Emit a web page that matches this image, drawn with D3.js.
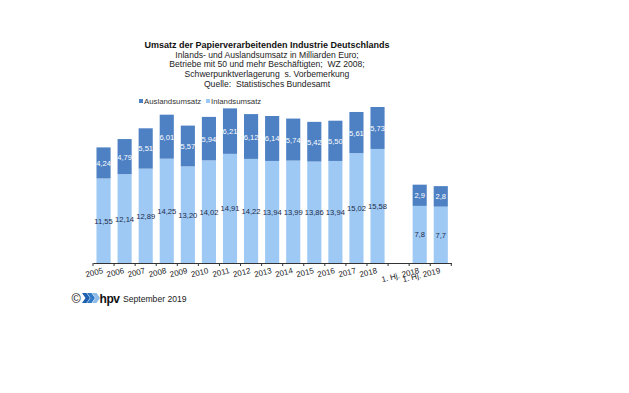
<!DOCTYPE html>
<html><head><meta charset="utf-8">
<script src="https://cdn.jsdelivr.net/npm/d3@7/dist/d3.min.js"></script>
<style>
body{margin:0;background:#fff;}
text{font-family:"Liberation Sans",Arial,sans-serif;white-space:pre;}
</style></head>
<body>
<svg id="c" width="629" height="393"></svg>
<script>
const categories = ["2005","2006","2007","2008","2009","2010","2011","2012","2013","2014","2015","2016","2017","2018"," ","1. Hj. 2018","1. Hj. 2019"];
const inland  = [11.55,12.14,12.89,14.25,13.20,14.02,14.91,14.22,13.94,13.99,13.86,13.94,15.02,15.58,null,7.8,7.7];
const ausland = [4.24,4.79,5.51,6.01,5.57,5.94,6.21,6.12,6.14,5.74,5.42,5.50,5.61,5.73,null,2.9,2.8];
const decimals = [2,2,2,2,2,2,2,2,2,2,2,2,2,2,0,1,1];
const titleLines = ["Inlands- und Auslandsumsatz in Milliarden Euro;","Betriebe mit 50 und mehr Beschäftigten;  WZ 2008;","Schwerpunktverlagerung  s. Vorbemerkung","Quelle:  Statistisches Bundesamt"];
const seriesNames = ["Auslandsumsatz","Inlandsumsatz"];

const darkBlue = "#4d81c4", lightBlue = "#9ec9f4";
const svg = d3.select("#c");
const de = d3.formatLocale({decimal:",",thousands:".",grouping:[3],currency:["","€"]});

const x = d3.scaleBand().domain(categories).range([93,451.3]).paddingInner(0.33).paddingOuter(0.165);
const y = d3.scaleLinear().domain([0,21.31]).range([263,107]);

// title
svg.append("text").attr("x",267).attr("y",48).attr("text-anchor","middle")
  .attr("font-size",9).attr("font-weight","bold").attr("fill","#111")
  .text("Umsatz der Papierverarbeitenden Industrie Deutschlands");
titleLines.forEach((t,i)=>{
  svg.append("text").attr("x",267).attr("y",57.5+i*9.7).attr("text-anchor","middle")
    .attr("font-size",8.6).attr("fill","#222").text(t);
});

// legend
const leg = [{n:seriesNames[0],c:darkBlue,x:139},{n:seriesNames[1],c:lightBlue,x:206}];
leg.forEach(l=>{
  svg.append("rect").attr("x",l.x).attr("y",99).attr("width",4).attr("height",4).attr("fill",l.c);
  svg.append("text").attr("x",l.x+5).attr("y",104).attr("font-size",7.8).attr("fill","#333").text(l.n);
});

const data = categories.map((c,i)=>({c,inl:inland[i],aus:ausland[i],d:decimals[i]})).filter(d=>d.inl!=null);

// bars
svg.selectAll(".inl").data(data).join("rect")
  .attr("x",d=>x(d.c)).attr("width",x.bandwidth())
  .attr("y",d=>y(d.inl)).attr("height",d=>y(0)-y(d.inl)).attr("fill",lightBlue);
svg.selectAll(".aus").data(data).join("rect")
  .attr("x",d=>x(d.c)).attr("width",x.bandwidth())
  .attr("y",d=>y(d.inl+d.aus)).attr("height",d=>y(d.inl)-y(d.inl+d.aus)).attr("fill",darkBlue);

// labels
svg.selectAll(".li").data(data).join("text")
  .attr("x",d=>x(d.c)+x.bandwidth()/2).attr("y",d=>y(d.inl/2)+3)
  .attr("text-anchor","middle").attr("font-size",7.6).attr("fill","#1c2b4a")
  .text(d=>de.format(",."+d.d+"f")(d.inl));
svg.selectAll(".la").data(data).join("text")
  .attr("x",d=>x(d.c)+x.bandwidth()/2).attr("y",d=>y(d.inl+d.aus/2)+3)
  .attr("text-anchor","middle").attr("font-size",7.6).attr("fill","#fff")
  .text(d=>de.format(",."+d.d+"f")(d.aus));

// axis
const axis = svg.append("g").attr("transform",`translate(0,${y(0)})`)
  .call(d3.axisBottom(x).tickSize(0).tickFormat(""));
axis.select(".domain").attr("stroke","#333").attr("stroke-width",1);
const [r0] = x.range();
d3.range(categories.length+1).forEach(i=>{
  const bx = r0 + i*x.step();
  axis.append("line").attr("x1",bx).attr("x2",bx).attr("y1",0).attr("y2",3).attr("stroke","#333");
});
categories.forEach(c=>{
  if(c.trim()==="") return;
  const cx = x(c)+x.bandwidth()/2;
  svg.append("text").attr("transform",`translate(${cx},${y(0)+10}) rotate(-14)`)
    .attr("text-anchor","end").attr("font-size",8).attr("fill","#222").text(c);
});

// footer
svg.append("text").attr("x",71.5).attr("y",303).attr("font-size",12.5).attr("fill","#111").text("©");
const chev = (x0,col)=>svg.append("path")
  .attr("d",`M${x0},293 L${x0+4.5},293 L${x0+8},298 L${x0+4.5},303 L${x0},303 L${x0+3.5},298 Z`).attr("fill",col);
chev(82,"#1f5fb0"); chev(87,"#2f78c8"); chev(92,"#8fbbe8");
svg.append("text").attr("x",99.5).attr("y",302.5).attr("font-size",12).attr("font-weight","bold")
  .attr("fill","#111").attr("letter-spacing",-0.4).text("hpv");
svg.append("text").attr("x",123).attr("y",302).attr("font-size",8.6).attr("fill","#222").text("September 2019");
</script>
</body></html>
